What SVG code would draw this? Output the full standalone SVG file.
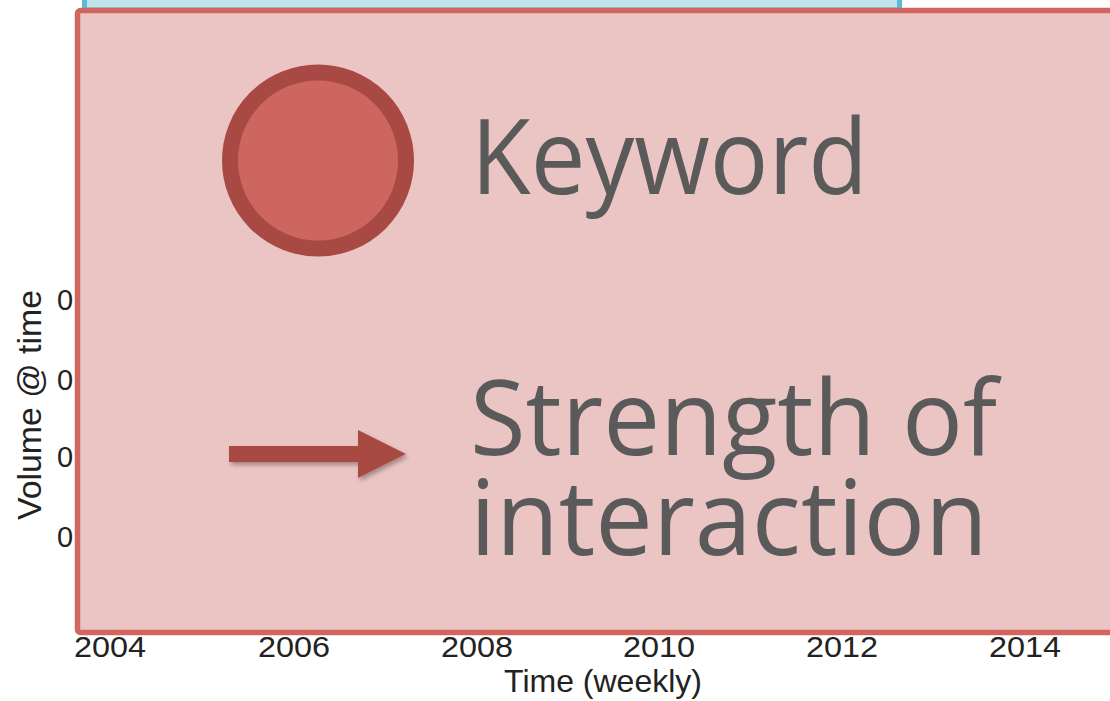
<svg xmlns="http://www.w3.org/2000/svg" width="1110" height="701" viewBox="0 0 1110 701">
  <defs>
    <style>
      .axis { font-family: "Liberation Sans", Arial, sans-serif; fill: #222; }
      .legend { font-family: "Open Sans", "Noto Sans", sans-serif; fill: #5a5a5a; font-size: 105px; }
    </style>
    <filter id="shadow" x="-20%" y="-50%" width="140%" height="200%">
      <feDropShadow dx="2" dy="3" stdDeviation="2" flood-color="#000" flood-opacity="0.3"/>
    </filter>
  </defs>
  <rect width="1110" height="701" fill="#ffffff"/>

  <g id="chart-axes">
    <g class="axis" font-size="29">
      <text x="57" y="310">0</text>
      <text x="57" y="390">0</text>
      <text x="57" y="467">0</text>
      <text x="57" y="547">0</text>
    </g>
    <g class="axis" font-size="29" text-anchor="middle">
      <text x="110" y="657" textLength="72" lengthAdjust="spacingAndGlyphs">2004</text>
      <text x="294" y="657" textLength="72" lengthAdjust="spacingAndGlyphs">2006</text>
      <text x="477" y="657" textLength="72" lengthAdjust="spacingAndGlyphs">2008</text>
      <text x="659" y="657" textLength="72" lengthAdjust="spacingAndGlyphs">2010</text>
      <text x="842" y="657" textLength="72" lengthAdjust="spacingAndGlyphs">2012</text>
      <text x="1025" y="657" textLength="72" lengthAdjust="spacingAndGlyphs">2014</text>
    </g>
    <text class="axis" font-size="32" x="603" y="692" text-anchor="middle">Time (weekly)</text>
    <text class="axis" font-size="34" transform="translate(41,405) rotate(-90)" text-anchor="middle" textLength="230" lengthAdjust="spacingAndGlyphs">Volume @ time</text>
  </g>

  <g id="blue-box">
    <rect x="84.5" y="-30" width="815" height="40" fill="#c2e3ea" stroke="#5bbbd5" stroke-width="5"/>
  </g>

  <g id="legend-box">
    <rect x="77.5" y="10.5" width="1060" height="622" rx="3" fill="#ebc5c4" stroke="#d0665f" stroke-width="5.5"/>
  </g>

  <g id="keyword-node">
    <circle cx="318" cy="160.5" r="88" fill="#cc665f" stroke="#a84a43" stroke-width="16"/>
    <text class="legend" x="471" y="194" textLength="397" lengthAdjust="spacingAndGlyphs">Keyword</text>
  </g>

  <g id="connectors">
    <path d="M229,446 H358 V430 L406,454 L358,478 V462 H229 Z" fill="#a84a43" filter="url(#shadow)"/>
  </g>

  <g id="interaction-label">
    <text class="legend" x="470" y="455" textLength="527" lengthAdjust="spacingAndGlyphs">Strength of</text>
    <text class="legend" x="470" y="555" textLength="518" lengthAdjust="spacingAndGlyphs">interaction</text>
  </g>
</svg>
